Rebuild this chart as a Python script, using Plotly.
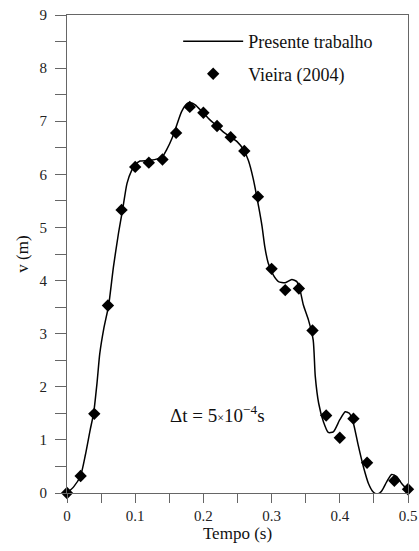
import plotly.graph_objects as go

# Reference data (Vieira 2004)
t_ref = [0.00, 0.02, 0.04, 0.06, 0.08, 0.10, 0.12, 0.14, 0.16, 0.18, 0.20, 0.22, 0.24,
         0.26, 0.28, 0.30, 0.32, 0.34, 0.36, 0.38, 0.40, 0.42, 0.44, 0.46, 0.48, 0.50]
v_ref = [0.00, 0.32, 1.49, 3.53, 5.33, 6.14, 6.22, 6.28, 6.78, 7.27, 7.16, 6.91, 6.70,
         6.44, 5.58, 4.22, 3.82, 3.85, 3.06, 1.46, 1.04, 1.40, 0.57, -0.11, 0.23, 0.07]

# Present work (continuous curve)
t_cur = [0.000, 0.010, 0.020, 0.027, 0.034, 0.039, 0.044, 0.048, 0.054, 0.061, 0.068,
         0.0756, 0.0815, 0.088, 0.095, 0.100, 0.107, 0.120, 0.135, 0.140, 0.146, 0.154,
         0.161, 0.168, 0.176, 0.181, 0.188, 0.198, 0.210, 0.220, 0.229, 0.239, 0.249,
         0.259, 0.266, 0.273, 0.281, 0.286, 0.290, 0.295, 0.3026, 0.310, 0.320, 0.3296,
         0.337, 0.3417, 0.3466, 0.354, 0.361, 0.364, 0.369, 0.376, 0.383, 0.3905, 0.400,
         0.408, 0.414, 0.420, 0.427, 0.4345, 0.442, 0.449, 0.455, 0.4614, 0.4687, 0.476,
         0.4834, 0.4907, 0.500]
v_cur = [0.00, 0.12, 0.33, 0.72, 1.19, 1.50, 2.07, 2.62, 3.10, 3.53, 4.25,
         4.90, 5.33, 5.83, 6.08, 6.18, 6.25, 6.26, 6.30, 6.33, 6.46, 6.68,
         6.93, 7.18, 7.33, 7.35, 7.31, 7.18, 7.02, 6.91, 6.80, 6.71, 6.62,
         6.46, 6.26, 5.92, 5.39, 5.02, 4.64, 4.33, 4.10, 3.98, 3.96, 4.02,
         3.98, 3.82, 3.54, 3.26, 2.88, 2.20, 1.69, 1.34, 1.14, 1.15, 1.38,
         1.53, 1.50, 1.31, 0.90, 0.50, 0.18, 0.02, -0.02, 0.04, 0.21, 0.35,
         0.31, 0.18, 0.05]

x_ticks = [0, 0.1, 0.2, 0.3, 0.4, 0.5]
x_tick_text = ["0", "0.1", "0.2", "0.3", "0.4", "0.5"]
y_ticks = [0, 1, 2, 3, 4, 5, 6, 7, 8, 9]

FONT = "Liberation Serif, Times New Roman, serif"

fig = go.Figure()
fig.add_trace(go.Scatter(
    x=t_cur, y=v_cur, mode="lines", name="Presente trabalho",
    line=dict(color="black", width=1.5, shape="spline", smoothing=0.6),
    legendgroup="a",
))
fig.add_trace(go.Scatter(
    x=t_ref, y=v_ref, mode="markers", name="Vieira (2004)",
    marker=dict(symbol="diamond", size=9.5, color="black"),
    cliponaxis=False, legendgroup="b",
))

fig.add_annotation(
    x=0.148, y=1.49, xref="x", yref="y", xanchor="left", yanchor="middle",
    text="Δt = 5<span style='font-size:12px'>×</span>10<sup>−4</sup>s",
    showarrow=False, font=dict(family=FONT, size=19, color="#111"),
)

axis_common = dict(
    showline=True, linecolor="#666", linewidth=1.2, mirror=True,
    ticks="outside", tickcolor="#666", tickwidth=1.2,
    showgrid=False, zeroline=False,
    tickfont=dict(family=FONT, size=15, color="#222"),
)

fig.update_xaxes(
    range=[0, 0.5], tickvals=x_ticks, ticktext=x_tick_text, ticklen=9,
    minor=dict(dtick=0.05, tick0=0, ticks="outside", ticklen=9, tickcolor="#666", tickwidth=1.2),
    title=dict(text="Tempo (s)", font=dict(family=FONT, size=17, color="#111"), standoff=4),
    automargin="height",
    **axis_common,
)
fig.update_yaxes(
    range=[0, 9], tickvals=y_ticks, ticklen=11,
    minor=dict(dtick=0.5, tick0=0, ticks="outside", ticklen=11, tickcolor="#666", tickwidth=1.2),
    ticklabelstandoff=5,
    title=dict(text="v (m)", font=dict(family=FONT, size=17, color="#111"), standoff=6),
    automargin="width",
    **axis_common,
)

fig.update_layout(
    width=419, height=551,
    margin=dict(l=67, r=11, t=15, b=58),
    paper_bgcolor="white", plot_bgcolor="white",
    showlegend=True,
    legend=dict(
        x=0.326, y=0.983, xanchor="left", yanchor="top",
        bgcolor="rgba(0,0,0,0)", borderwidth=0,
        font=dict(family=FONT, size=18, color="#111"),
        tracegroupgap=6, itemwidth=60,
    ),
)

fig.write_html("out.html")
